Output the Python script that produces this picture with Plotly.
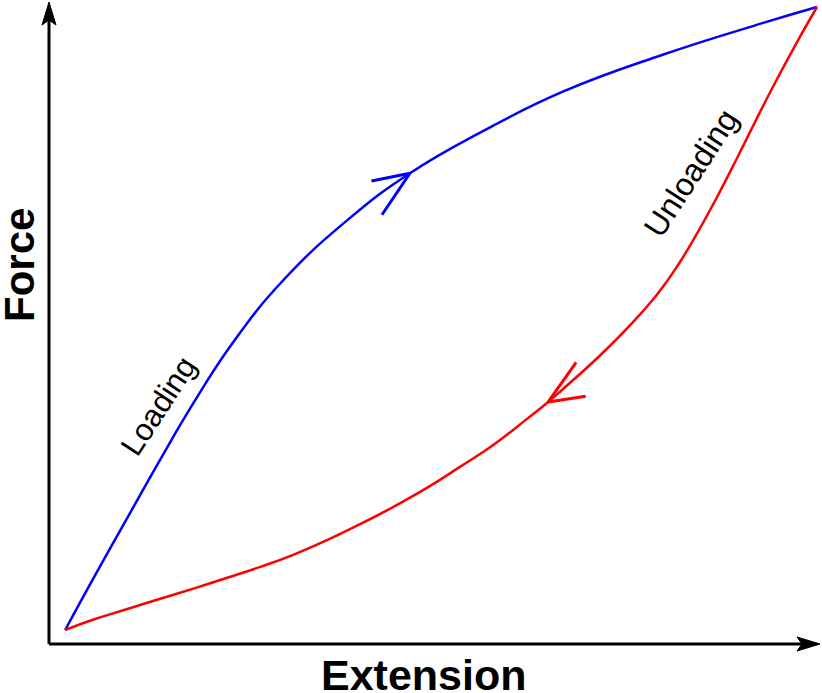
import plotly.graph_objects as go

# Loading curve (Extension, Force) in arbitrary units
loading_x = [2.1, 6.1, 10.2, 14.5, 18.8, 24.0, 30.5, 39.2, 47.0, 56.5, 66.9, 79.9, 93.0, 100.0]
loading_y = [2.2, 11.0, 19.8, 29.0, 37.8, 47.4, 57.1, 66.9, 73.9, 80.5, 86.7, 92.5, 97.5, 100.0]

# Unloading curve
unloading_x = [100.0, 97.4, 94.8, 92.2, 89.6, 87.0, 84.4, 81.8, 79.2, 75.7, 71.4, 66.9, 65.0,
               62.2, 57.8, 53.5, 49.2, 44.8, 40.5, 36.2, 31.8, 27.5, 23.2, 18.8, 14.5, 10.2, 5.7, 2.1]
unloading_y = [100.0, 94.5, 88.7, 82.6, 76.3, 70.2, 64.5, 59.3, 54.9, 50.1, 44.9, 40.0, 38.0,
               35.3, 31.2, 27.8, 24.5, 21.5, 18.8, 16.3, 14.0, 12.1, 10.4, 8.7, 7.1, 5.5, 3.8, 2.2]

# index of direction-arrow tip on each curve
loading_arrow_idx = 8
unloading_arrow_idx = 12

x_label = "Extension"
y_label = "Force"
loading_label = "Loading"
unloading_label = "Unloading"

BLUE = "#0000ff"
RED = "#ff0000"
W, H = 822, 693
# pixel mapping for layout (origin at axis corner)
ox, oy = 49, 644
sx, sy = 7.68, 6.37
x_range = [-ox / sx, (W - ox) / sx]
y_range = [(oy - H) / sy, oy / sy]
x_axis_end = (820 - ox) / sx
y_axis_end = (oy - 2) / sy

fig = go.Figure()
fig.add_trace(go.Scatter(x=loading_x, y=loading_y, mode="lines",
                         line=dict(color=BLUE, width=2.5, shape="spline", smoothing=1.3),
                         hoverinfo="skip"))
fig.add_trace(go.Scatter(x=unloading_x, y=unloading_y, mode="lines",
                         line=dict(color=RED, width=2.5, shape="spline", smoothing=1.3),
                         hoverinfo="skip"))

shapes = [
    dict(type="line", xref="x", yref="y", x0=0, y0=0, x1=0, y1=y_axis_end - 18 / sy,
         line=dict(color="black", width=3)),
    dict(type="line", xref="x", yref="y", x0=0, y0=0, x1=x_axis_end - 18 / sx, y1=0,
         line=dict(color="black", width=3)),
    dict(type="path", xref="x", yref="y", xsizemode="pixel", ysizemode="pixel",
         xanchor=0, yanchor=y_axis_end, path="M0,0 L-7,-23 L0,-18 L7,-23 Z",
         fillcolor="black", line=dict(color="black", width=1)),
    dict(type="path", xref="x", yref="y", xsizemode="pixel", ysizemode="pixel",
         xanchor=x_axis_end, yanchor=0, path="M0,0 L-23,7 L-18,0 L-23,-7 Z",
         fillcolor="black", line=dict(color="black", width=1)),
]

annotations = []
bx, by = loading_x[loading_arrow_idx], loading_y[loading_arrow_idx]
for ax, ay in [(-40, 8), (-29, 43)]:
    annotations.append(dict(x=bx, y=by, xref="x", yref="y", ax=ax, ay=ay, axref="pixel", ayref="pixel",
                            text="", showarrow=True, arrowhead=0, arrowwidth=3, arrowcolor=BLUE,
                            standoff=0, startstandoff=0))
rx, ry = unloading_x[unloading_arrow_idx], unloading_y[unloading_arrow_idx]
for ax, ay in [(29, -41), (39, -6)]:
    annotations.append(dict(x=rx, y=ry, xref="x", yref="y", ax=ax, ay=ay, axref="pixel", ayref="pixel",
                            text="", showarrow=True, arrowhead=0, arrowwidth=3, arrowcolor=RED,
                            standoff=0, startstandoff=0))

font_family = "Liberation Sans, Arial, sans-serif"
annotations += [
    dict(x=(19 - ox) / sx, y=(oy - 265) / sy, xref="x", yref="y", text="<b>" + y_label + "</b>",
         textangle=-90, showarrow=False, font=dict(family=font_family, size=42, color="black")),
    dict(x=(424 - ox) / sx, y=(oy - 675) / sy, xref="x", yref="y", text="<b>" + x_label + "</b>",
         showarrow=False, font=dict(family=font_family, size=43, color="black")),
    dict(x=(158 - ox) / sx, y=(oy - 406) / sy, xref="x", yref="y", text=loading_label,
         textangle=-57, showarrow=False, font=dict(family=font_family, size=31, color="black")),
    dict(x=(691 - ox) / sx, y=(oy - 173) / sy, xref="x", yref="y", text=unloading_label,
         textangle=-57, showarrow=False, font=dict(family=font_family, size=32, color="black")),
]

fig.update_layout(
    width=W, height=H,
    margin=dict(l=0, r=0, t=0, b=0),
    paper_bgcolor="white", plot_bgcolor="white",
    showlegend=False,
    xaxis=dict(range=x_range, visible=False, fixedrange=True),
    yaxis=dict(range=y_range, visible=False, fixedrange=True),
    shapes=shapes, annotations=annotations,
)

fig.write_html("out.html", config={"displayModeBar": False},
               post_script="document.body.style.margin='0';document.body.style.overflow='hidden';")
